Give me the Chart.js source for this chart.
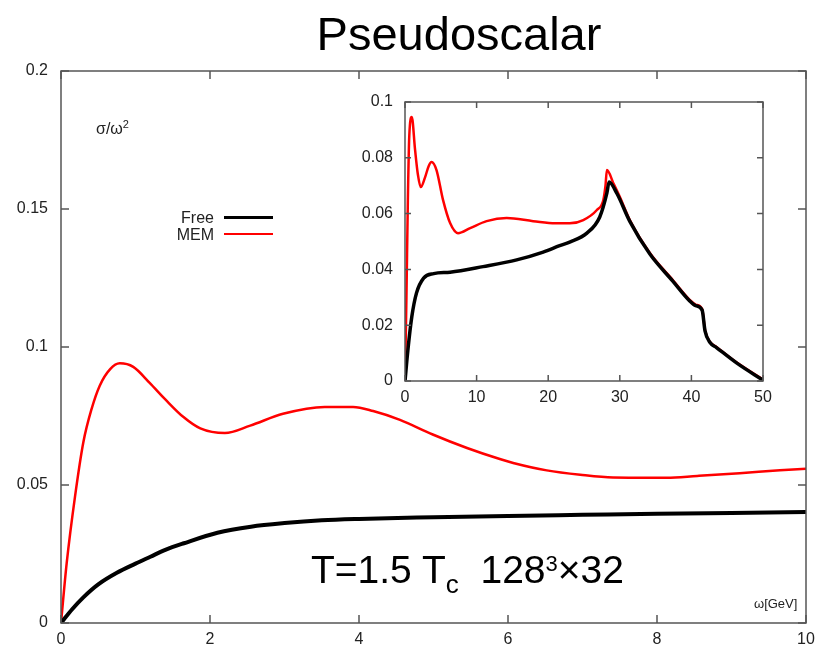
<!DOCTYPE html>
<html>
<head>
<meta charset="utf-8">
<script src="https://cdn.jsdelivr.net/npm/chart.js@4"></script>
<style>
  body { margin: 0; background: #fff; }
  #wrap { position: relative; width: 819px; height: 647px; font-family: "Liberation Sans", Arial, sans-serif; color: #000; }
  #main { position: absolute; left: 0; top: 0; }
  #inset { position: absolute; left: 350px; top: 90px; }
  .txt { position: absolute; white-space: nowrap; }
  .legline { position: absolute; }
</style>
</head>
<body>
<div id="wrap">
  <canvas id="main" width="819" height="647"></canvas>
  <canvas id="inset" width="425" height="315"></canvas>

  <div class="txt" style="left:0; width:918px; top:10px; font-size:47px; line-height:47px; text-align:center;">Pseudoscalar</div>
  <div class="txt" style="left:96px; top:121px; font-size:16px; line-height:16px; color:#222;">σ/ω<span style="font-size:11px; position:relative; top:-6px;">2</span></div>

  <div class="txt" style="left:150px; width:64px; top:209.5px; font-size:16px; line-height:16px; text-align:right; color:#222;">Free</div>
  <div class="txt" style="left:150px; width:64px; top:226.5px; font-size:16px; line-height:16px; text-align:right; color:#222;">MEM</div>
  <div class="legline" style="left:224px; top:216px; width:49px; height:3px; background:#000;"></div>
  <div class="legline" style="left:224px; top:233px; width:49px; height:2px; background:#f00;"></div>

  <div class="txt" style="left:311px; top:549.5px; font-size:39px; line-height:39px;">T=1.5 T<span style="font-size:26px; position:relative; top:10px;">c</span>&nbsp;&nbsp;128<span style="font-size:22px; position:relative; top:-12px;">3</span>×32</div>
  <div class="txt" style="left:754px; top:597px; font-size:13px; line-height:13px; color:#222;">ω[GeV]</div>
</div>

<script>
// main panel: sigma/omega^2 vs omega (GeV), 0..10
const freeX = [0, 0.15, 0.3, 0.5, 0.75, 1.0, 1.2, 1.4, 1.65, 2.1, 2.55, 3.0, 3.5, 4.0, 5.0, 6.0, 7.0, 8.0, 9.0, 10.0];
const freeY = [0, 0.005, 0.0093, 0.014, 0.0182, 0.0215, 0.024, 0.0265, 0.0289, 0.0327, 0.0349, 0.0362, 0.0372, 0.0377, 0.0383, 0.0388, 0.0392, 0.0396, 0.0399, 0.0402];

const memX = [0, 0.076, 0.188, 0.3, 0.41, 0.52, 0.66, 0.79, 0.97, 1.19, 1.4, 1.64, 1.87, 2.2, 2.54, 2.98, 3.54, 3.92, 4.19, 4.55, 4.99, 5.45, 5.89, 6.07, 6.52, 6.97, 7.41, 8.13, 8.54, 9.11, 9.65, 10.0];
const memY = [0, 0.0216, 0.0458, 0.0655, 0.0775, 0.086, 0.092, 0.0941, 0.0928, 0.087, 0.081, 0.0747, 0.0705, 0.0688, 0.0715, 0.0758, 0.0783, 0.0783, 0.0768, 0.0736, 0.0683, 0.0634, 0.0594, 0.058, 0.0553, 0.0537, 0.0527, 0.0526, 0.0533, 0.0543, 0.0553, 0.0559];

// inset panel: 0..50 GeV
const insetFreeX = [0, 0.4, 0.95, 1.6, 2.6, 4.0, 6.3, 10.9, 15.6, 19.3, 21.6, 23.0, 25.4, 27.2, 28.2, 28.5, 29.6, 31.4, 34.2, 37.4, 39.8, 40.6, 41.5, 41.9, 42.6, 43.5, 46.4, 50.0];
const insetFreeY = [0, 0.011, 0.023, 0.0315, 0.0369, 0.0385, 0.039, 0.041, 0.0434, 0.0462, 0.0485, 0.0498, 0.053, 0.0588, 0.0674, 0.0713, 0.0672, 0.0572, 0.0455, 0.0358, 0.0286, 0.027, 0.0254, 0.018, 0.0138, 0.012, 0.0063, 0.0003];

const insetMemX = [0, 0.2, 0.4, 0.6, 0.95, 1.4, 1.8, 2.2, 2.8, 3.3, 3.7, 4.4, 5.3, 6.3, 7.4, 9.1, 11.4, 14.2, 17.9, 21.0, 23.0, 24.9, 26.8, 27.7, 28.0, 28.2, 29.1, 30.0, 31.4, 34.2, 37.4, 39.8, 40.6, 41.5, 41.9, 42.6, 43.5, 46.4, 50.0];
const insetMemY = [0, 0.03, 0.065, 0.088, 0.0946, 0.083, 0.074, 0.0695, 0.073, 0.077, 0.0785, 0.0756, 0.065, 0.0566, 0.053, 0.0548, 0.0573, 0.0584, 0.0573, 0.0565, 0.0565, 0.0577, 0.0613, 0.0649, 0.070, 0.0756, 0.0709, 0.066, 0.0577, 0.0459, 0.0362, 0.029, 0.0274, 0.0258, 0.0183, 0.014, 0.0122, 0.0065, 0.0005];

const mainXTicks = [0, 2, 4, 6, 8, 10];
const mainYTicks = [0, 0.05, 0.1, 0.15, 0.2];
const insetXTicks = [0, 10, 20, 30, 40, 50];
const insetYTicks = [0, 0.02, 0.04, 0.06, 0.08, 0.1];

const FONT = "'Liberation Sans', Arial, sans-serif";

function pts(xs, ys) {
  return xs.map((x, i) => ({ x: x, y: ys[i] }));
}

// gnuplot style box with inward ticks on all four sides
const boxTicks = {
  id: "boxTicks",
  afterDatasetsDraw(chart, args, opts) {
    const ctx = chart.ctx;
    const a = chart.chartArea;
    const xs = chart.scales.x, ys = chart.scales.y;
    const len = opts.len;
    ctx.save();
    ctx.strokeStyle = "#555";
    ctx.lineWidth = 1.5;
    ctx.beginPath();
    xs.ticks.forEach((t) => {
      const px = xs.getPixelForValue(t.value);
      ctx.moveTo(px, a.bottom); ctx.lineTo(px, a.bottom - len);
      ctx.moveTo(px, a.top); ctx.lineTo(px, a.top + len);
    });
    ys.ticks.forEach((t) => {
      const py = ys.getPixelForValue(t.value);
      ctx.moveTo(a.left, py); ctx.lineTo(a.left + len, py);
      ctx.moveTo(a.right, py); ctx.lineTo(a.right - len, py);
    });
    ctx.stroke();
    ctx.strokeRect(a.left, a.top, a.right - a.left, a.bottom - a.top);
    ctx.restore();
  },
};

function makeChart(id, cfg) {
  return new Chart(document.getElementById(id), {
    type: "line",
    data: {
      datasets: [
        {
          label: "Free",
          data: cfg.free,
          borderColor: "#000",
          borderWidth: cfg.freeWidth,
          pointRadius: 0,
          cubicInterpolationMode: "monotone",
        },
        {
          label: "MEM",
          data: cfg.mem,
          borderColor: "#ff0000",
          borderWidth: cfg.memWidth,
          pointRadius: 0,
          cubicInterpolationMode: "monotone",
        },
      ],
    },
    options: {
      responsive: false,
      animation: false,
      layout: { padding: cfg.padding },
      plugins: {
        legend: { display: false },
        tooltip: { enabled: false },
        boxTicks: { len: cfg.tickLen },
      },
      scales: {
        x: {
          type: "linear",
          min: cfg.xTicks[0],
          max: cfg.xTicks[cfg.xTicks.length - 1],
          grid: { display: false, drawTicks: false },
          border: { display: false },
          afterBuildTicks: (s) => { s.ticks = cfg.xTicks.map((v) => ({ value: v })); },
          afterFit: (s) => { s.height = 24; s.paddingLeft = 0; s.paddingRight = 0; },
          ticks: {
            padding: 7,
            maxRotation: 0,
            color: "#222",
            font: { family: FONT, size: 16 },
            callback: (v) => String(v),
          },
        },
        y: {
          type: "linear",
          min: cfg.yTicks[0],
          max: cfg.yTicks[cfg.yTicks.length - 1],
          grid: { display: false, drawTicks: false },
          border: { display: false },
          afterBuildTicks: (s) => { s.ticks = cfg.yTicks.map((v) => ({ value: v })); },
          afterFit: (s) => { s.width = cfg.yWidth; s.paddingTop = 0; s.paddingBottom = 0; },
          ticks: {
            padding: cfg.yPad,
            color: "#222",
            font: { family: FONT, size: 16 },
            callback: (v) => String(v),
          },
        },
      },
    },
    plugins: [boxTicks],
  });
}

makeChart("main", {
  free: pts(freeX, freeY),
  mem: pts(memX, memY),
  freeWidth: 4,
  memWidth: 2.5,
  xTicks: mainXTicks,
  yTicks: mainYTicks,
  padding: { top: 71, right: 13, left: 0, bottom: 0 },
  yWidth: 61,
  yPad: 13,
  tickLen: 8,
});

makeChart("inset", {
  free: pts(insetFreeX, insetFreeY),
  mem: pts(insetMemX, insetMemY),
  freeWidth: 3.5,
  memWidth: 2.5,
  xTicks: insetXTicks,
  yTicks: insetYTicks,
  padding: { top: 12, right: 12, left: 0, bottom: 0 },
  yWidth: 55,
  yPad: 12,
  tickLen: 6,
});
</script>
</body>
</html>
